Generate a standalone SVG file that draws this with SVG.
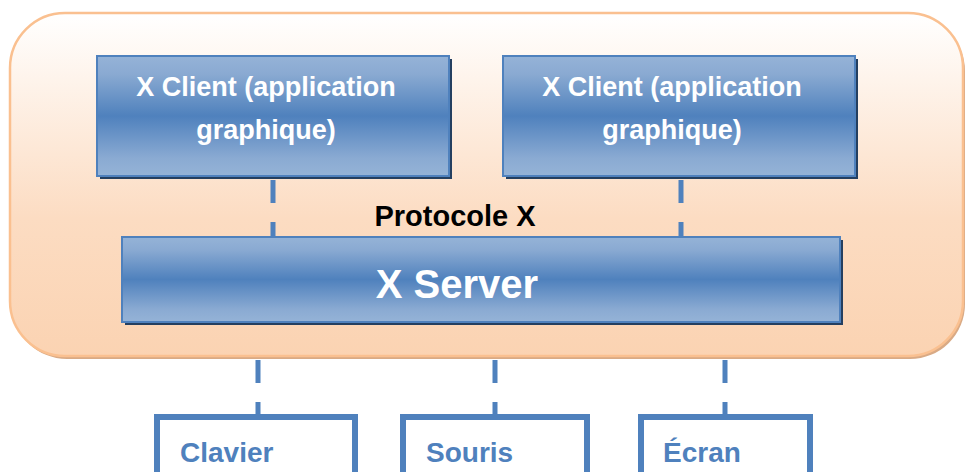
<svg xmlns="http://www.w3.org/2000/svg" width="965" height="472" viewBox="0 0 965 472">
<defs>
<linearGradient id="gOuter" x1="0" y1="0" x2="0" y2="1">
<stop offset="0" stop-color="#FFFFFF"/>
<stop offset="0.6" stop-color="#FCDCC2"/>
<stop offset="1" stop-color="#FBD3B2"/>
</linearGradient>
<linearGradient id="gBlue" x1="0" y1="0" x2="0" y2="1">
<stop offset="0" stop-color="#95B3D7"/>
<stop offset="0.15" stop-color="#8AAAD2"/>
<stop offset="0.5" stop-color="#4F81BD"/>
<stop offset="0.85" stop-color="#8AAAD2"/>
<stop offset="1" stop-color="#95B3D7"/>
</linearGradient>
<style>
.box{fill:url(#gBlue);stroke:#4F81BD;stroke-width:2}
.shadow{fill:#243F60}
.wt{font-family:"Liberation Sans",Arial,sans-serif;font-weight:bold;fill:#FFFFFF}
.bt{font-family:"Liberation Sans",Arial,sans-serif;font-weight:bold;fill:#4F81BD;font-size:28px}
.dev{fill:#FFFFFF;stroke:#4F81BD;stroke-width:6}
.conn{stroke:#4F81BD;stroke-width:5;stroke-dasharray:23 19;fill:none}
</style>
</defs>
<g id="frame">
<rect x="12" y="16" width="953" height="343" rx="55" fill="#D9AA85"/>
<rect x="10" y="13" width="953" height="343" rx="55" fill="url(#gOuter)" stroke="#FAC090" stroke-width="2.5"/>
</g>
<g id="connectors">
<line class="conn" x1="273" y1="180" x2="273" y2="237"/>
<line class="conn" x1="681" y1="180" x2="681" y2="237"/>
<line class="conn" x1="258" y1="360" x2="258" y2="414"/>
<line class="conn" x1="495" y1="360" x2="495" y2="414"/>
<line class="conn" x1="725" y1="360" x2="725" y2="414"/>
</g>
<g id="client1">
<rect class="shadow" x="100" y="59" width="352" height="120"/>
<rect class="box" x="97" y="56" width="352" height="120"/>
<text class="wt" font-size="27" text-anchor="middle" x="266" y="96">X Client (application</text>
<text class="wt" font-size="27" text-anchor="middle" x="266" y="139">graphique)</text>
</g>
<g id="client2">
<rect class="shadow" x="506" y="59" width="352" height="120"/>
<rect class="box" x="503" y="56" width="352" height="120"/>
<text class="wt" font-size="27" text-anchor="middle" x="672" y="96">X Client (application</text>
<text class="wt" font-size="27" text-anchor="middle" x="672" y="139">graphique)</text>
</g>
<g id="protocol">
<text font-family="Liberation Sans,Arial,sans-serif" font-weight="bold" font-size="29" fill="#000000" text-anchor="middle" x="455" y="226">Protocole X</text>
</g>
<g id="server">
<rect class="shadow" x="125" y="240" width="718" height="85"/>
<rect class="box" x="122" y="237" width="718" height="85"/>
<text class="wt" font-size="40" text-anchor="middle" x="457" y="298">X Server</text>
</g>
<g id="clavier">
<rect class="dev" x="157" y="417" width="198" height="70"/>
<text class="bt" x="180" y="462">Clavier</text>
</g>
<g id="souris">
<rect class="dev" x="403" y="417" width="184" height="70"/>
<text class="bt" x="426" y="462">Souris</text>
</g>
<g id="ecran">
<rect class="dev" x="641" y="417" width="169" height="70"/>
<text class="bt" x="663" y="462">Écran</text>
</g>
</svg>
